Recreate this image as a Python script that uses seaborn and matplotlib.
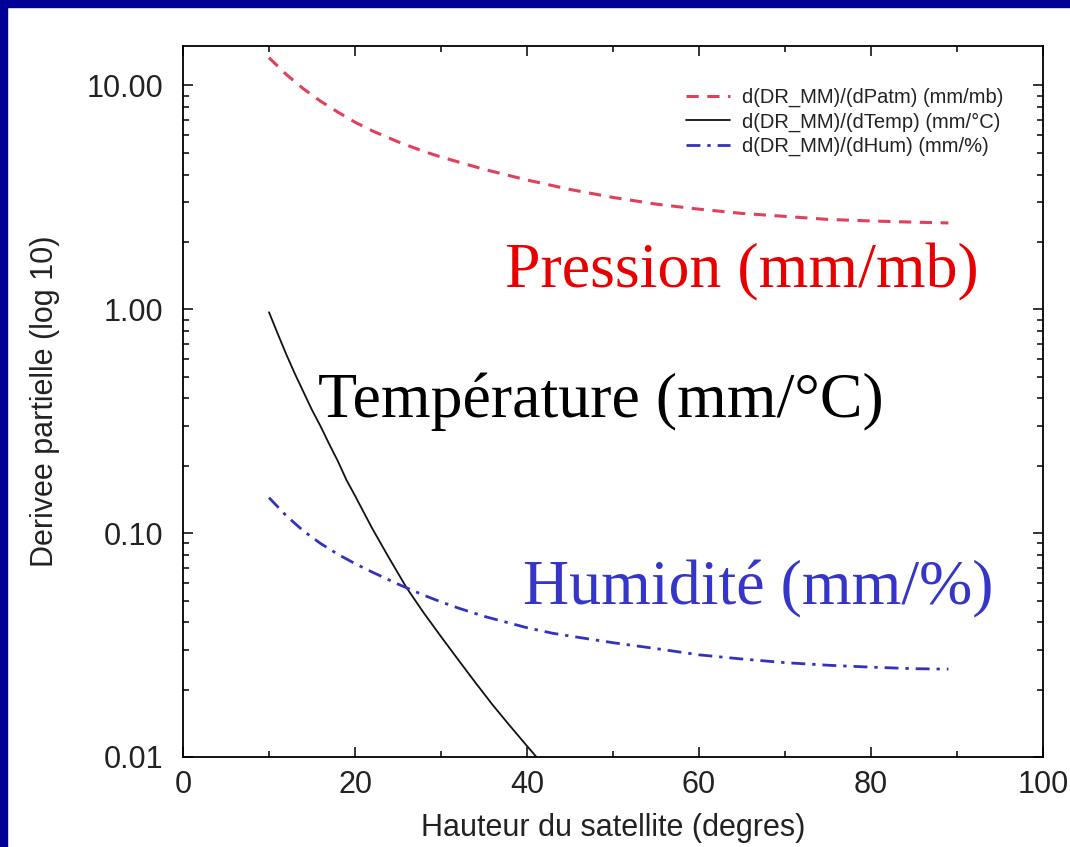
import matplotlib
matplotlib.use("Agg")
import matplotlib.pyplot as plt
import matplotlib.ticker as mticker
from matplotlib.patches import Rectangle
from matplotlib.lines import Line2D
import seaborn as sns
import pandas as pd

# ---- data ----
elev_p = [10, 12, 14, 16, 18, 20, 22, 25, 28, 30, 35, 40, 45, 50, 55, 60, 65, 70, 75, 80, 85, 89]
pression = [13.3, 11.2, 9.66, 8.5, 7.6, 6.85, 6.27, 5.6, 5.07, 4.79, 4.22, 3.78, 3.43, 3.16,
            2.95, 2.8, 2.68, 2.6, 2.52, 2.48, 2.45, 2.43]

elev_t = [10, 11, 12, 13, 14, 15, 16, 17, 18, 19, 20, 22, 24, 26, 28, 30, 32, 34, 36, 38, 40, 41.1]
temperature = [0.97, 0.78, 0.63, 0.516, 0.428, 0.355, 0.30, 0.25, 0.21, 0.173, 0.147, 0.105,
               0.077, 0.057, 0.044, 0.0345, 0.0272, 0.0215, 0.0171, 0.0138, 0.0112, 0.0100]

elev_h = [10, 12, 14, 16, 18, 20, 22, 25, 28, 30, 32, 35, 40, 43, 45, 50, 55, 60, 65, 70,
          75, 80, 85, 89]
humidite = [0.144, 0.1197, 0.1023, 0.0899, 0.0805, 0.0731, 0.067, 0.0592, 0.0528, 0.0493,
            0.0463, 0.0425, 0.0378, 0.0357, 0.0347, 0.0324, 0.0305, 0.0286, 0.0274, 0.0264,
            0.0257, 0.0252, 0.0248, 0.0247]

legend_labels = ["d(DR_MM)/(dPatm) (mm/mb)", "d(DR_MM)/(dTemp) (mm/°C)", "d(DR_MM)/(dHum) (mm/%)"]
annot_labels = ["Pression (mm/mb)", "Température (mm/°C)", "Humidité (mm/%)"]
y_ticks = [0.01, 0.1, 1, 10]
x_ticks = [0, 20, 40, 60, 80, 100]

sns.set_theme(style="ticks")
plt.rcParams["font.family"] = ["Liberation Sans", "DejaVu Sans"]

fig = plt.figure(figsize=(10.7, 8.47), dpi=100)
fig.patch.set_facecolor("white")
ax = fig.add_axes([183 / 1070, 1 - 757 / 847, 860 / 1070, 711 / 847])

red_c = "#e0405a"
blk_c = "#111111"
blu_c = "#3232c0"
red_dash = [4, 2.8]
blu_dash = [5, 2.5, 1.2, 2.5]

df_p = pd.DataFrame({"x": elev_p, "y": pression})
df_t = pd.DataFrame({"x": elev_t, "y": temperature})
df_h = pd.DataFrame({"x": elev_h, "y": humidite})

sns.lineplot(data=df_p, x="x", y="y", ax=ax, color=red_c, linewidth=2.2, sort=True)
sns.lineplot(data=df_t, x="x", y="y", ax=ax, color=blk_c, linewidth=1.3, sort=True)
sns.lineplot(data=df_h, x="x", y="y", ax=ax, color=blu_c, linewidth=2.0, sort=True)
ax.lines[0].set_dashes(red_dash)
ax.lines[2].set_dashes(blu_dash)
for ln in ax.lines:
    ln.set_solid_joinstyle("round")
    ln.set_dash_joinstyle("round")

ax.set_yscale("log")
ax.set_xlim(0, 100)
ax.set_ylim(0.01, 15)
ax.set_xticks(x_ticks)
ax.xaxis.set_minor_locator(mticker.MultipleLocator(10))
ax.set_yticks(y_ticks)
ax.yaxis.set_major_formatter(mticker.FuncFormatter(lambda v, p: f"{v:.2f}"))
ax.yaxis.set_minor_locator(mticker.LogLocator(base=10, subs=range(2, 10)))
ax.yaxis.set_minor_formatter(mticker.NullFormatter())

ax.tick_params(which="both", direction="in", top=True, right=True, color="black", width=1.1)
ax.tick_params(which="major", length=7.5)
ax.tick_params(which="minor", length=4)
ax.tick_params(axis="x", which="major", labelsize=22, pad=9, labelcolor="#222222")
ax.tick_params(axis="y", which="major", labelsize=22, pad=14, labelcolor="#222222")
for s in ax.spines.values():
    s.set_color("black")
    s.set_linewidth(1.3)

ax.set_xlabel("Hauteur du satellite (degres)", fontsize=22, color="#222222", labelpad=10)
ax.set_ylabel("Derivee partielle (log 10)", fontsize=22, color="#222222", labelpad=19)

handles = [Line2D([], [], color=red_c, linewidth=2.2, dashes=red_dash),
           Line2D([], [], color=blk_c, linewidth=1.3),
           Line2D([], [], color=blu_c, linewidth=2.0, dashes=blu_dash)]
ax.legend(handles, legend_labels, loc="upper left",
          bbox_to_anchor=((686 - 183) / 860, 1 - (88 - 46) / 711),
          frameon=False, fontsize=14.5, handlelength=2.2, handletextpad=0.6, labelspacing=0.25,
          borderpad=0, borderaxespad=0, labelcolor="#222222")

serif = ["Liberation Serif", "DejaVu Serif"]
ax.text((742 - 183) / 860, 1 - (287 - 46) / 711, annot_labels[0], transform=ax.transAxes,
        ha="center", va="baseline", fontsize=46, color="#e80000", family=serif)
ax.text((601 - 183) / 860, 1 - (417 - 46) / 711, annot_labels[1], transform=ax.transAxes,
        ha="center", va="baseline", fontsize=46, color="black", family=serif)
ax.text((758 - 183) / 860, 1 - (604 - 46) / 711, annot_labels[2], transform=ax.transAxes,
        ha="center", va="baseline", fontsize=46, color="#3535c8", family=serif)

# navy slide border (top and left)
navy = "#000099"
fig.patches.append(Rectangle((0, 1 - 7 / 847), 1, 7 / 847, transform=fig.transFigure,
                             color=navy, zorder=10))
fig.patches.append(Rectangle((0, 0), 7 / 1070, 1, transform=fig.transFigure,
                             color=navy, zorder=10))

fig.savefig("out.png", dpi=100)
